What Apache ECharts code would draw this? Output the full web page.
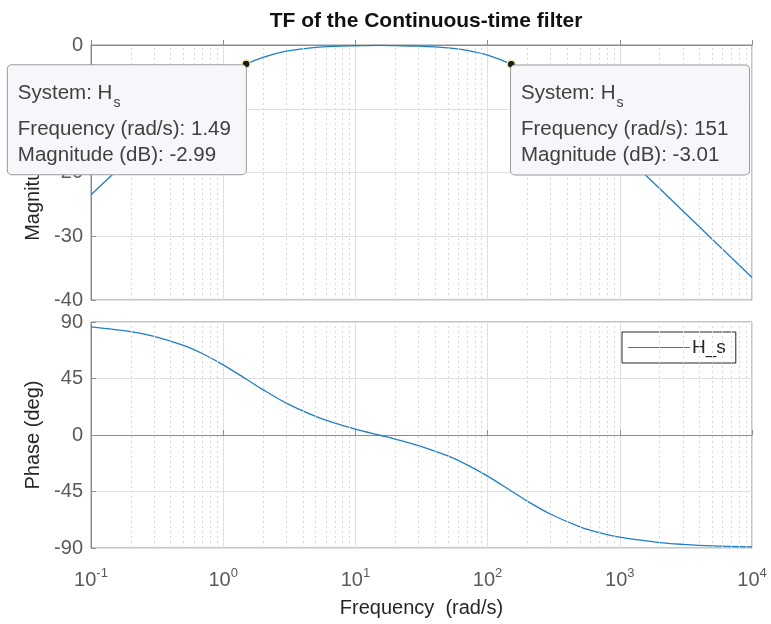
<!DOCTYPE html>
<html>
<head>
<meta charset="utf-8">
<script src="https://cdn.jsdelivr.net/npm/echarts@6/dist/echarts.min.js"></script>
<style>html,body{margin:0;padding:0;background:#fff}#c{width:771px;height:624px}</style>
</head>
<body>
<div id="c"></div>
<script>
// Frequency points (rad/s)
var freq = [0.1, 0.2, 0.3, 0.5, 0.7, 1, 1.5, 2, 3, 5, 7, 10, 15, 20, 30, 50, 70, 100, 150, 200, 300, 500, 700, 1000, 2000, 3000, 5000, 10000];
// Magnitude (dB)
var magnitude = [-23.5, -17.6, -14.15, -10.0, -7.48, -5.12, -3.01, -1.94, -0.97, -0.37, -0.2, -0.12, -0.05, -0.1, -0.18, -0.46, -0.86, -1.6, -3.01, -4.44, -6.99, -10.83, -13.58, -16.57, -22.52, -26.03, -30.46, -36.48];
// Phase (deg)
var phase = [86.15, 82.3, 78.6, 71.4, 64.7, 55.9, 44.4, 36.1, 25.4, 14.8, 9.4, 4.7, 0.0, -3.3, -8.45, -16.7, -23.8, -32.8, -44.4, -52.7, -63.1, -73.1, -77.8, -81.4, -85.7, -87.1, -88.3, -89.1];
// Data tips
var tipFreq = [1.49, 151];
var tipMag = [-2.99, -3.01];
// Minor grid positions
var minorTicks = [0.2,0.3,0.4,0.5,0.6,0.7,0.8,0.9, 2,3,4,5,6,7,8,9, 20,30,40,50,60,70,80,90, 200,300,400,500,600,700,800,900, 2000,3000,4000,5000,6000,7000,8000,9000];
var magTicks = [-40, 0, 10];
var phaseTicks = [-90, 90, 45];

var FONT = "'Liberation Sans', Arial, Helvetica, sans-serif";
var LINE = '#1f7fc4';
var BOXW = 238;
var minorML = {
  silent: true, symbol: ['none', 'none'],
  label: {show: false},
  lineStyle: {type: [2, 3], color: '#d8d8d8', width: 1},
  emphasis: {disabled: true},
  data: minorTicks.map(function (v) { return {xAxis: v}; })
};

function tipLabel(i, left) {
  return {
    show: true,
    position: left ? [4.5 - BOXW, 6] : [4.5, 6],
    align: 'left',
    verticalAlign: 'top',
    width: BOXW - 22,
    formatter: '{h|System: H}{s|s}\n{a|Frequency (rad/s): ' + tipFreq[i] + '}\n{a|Magnitude (dB): ' + tipMag[i] + '}',
    backgroundColor: '#f7f7fb',
    borderColor: '#9a9a9a',
    borderWidth: 1,
    borderRadius: 4,
    padding: [11, 12, 6, 10],
    color: '#404040',
    fontFamily: FONT,
    rich: {
      h: {fontSize: 20.5, lineHeight: 40, color: '#404040', fontFamily: FONT, padding: [0, 0, 6, 0]},
      a: {fontSize: 20.5, lineHeight: 26, color: '#404040', fontFamily: FONT},
      s: {fontSize: 14, lineHeight: 40, color: '#404040', fontFamily: FONT, padding: [14, 0, 0, 1]}
    }
  };
}

var xLabelFmt = function (v) {
  var e = Math.round(Math.log10(v));
  return '{b|10}{p|' + e + '}';
};

var option = {
  animation: false,
  backgroundColor: '#ffffff',
  title: {
    text: 'TF of the Continuous-time filter',
    left: 421, top: 6, textAlign: 'center',
    textStyle: {fontFamily: FONT, fontSize: 21, fontWeight: 'bold', color: '#111111'}
  },
  legend: {
    data: ['H_s'],
    left: 622, top: 332,
    orient: 'vertical',
    backgroundColor: '#ffffff',
    borderColor: '#262626', borderWidth: 1, borderRadius: 0,
    padding: [6, 10, 6, 6],
    itemWidth: 62, itemHeight: 16,
    icon: 'path://M0,8L62,8L62,9L0,9Z',
    textStyle: {fontFamily: FONT, fontSize: 19, color: '#262626', padding: [0, 0, 0, -3]}
  },
  grid: [
    {left: 91, right: 19, top: 45, height: 255, show: true, borderColor: '#8c8c8c', borderWidth: 1, backgroundColor: '#fff', containLabel: false},
    {left: 91, right: 19, top: 322, height: 226, show: true, borderColor: '#8c8c8c', borderWidth: 1, backgroundColor: '#fff', containLabel: false}
  ],
  xAxis: [
    {type: 'log', logBase: 10, min: 0.1, max: 10000, gridIndex: 0,
     axisLine: {show: true, lineStyle: {color: '#8c8c8c'}},
     axisTick: {show: true, inside: true, length: 5, lineStyle: {color: '#8c8c8c'}},
     axisLabel: {show: false},
     splitLine: {show: true, lineStyle: {color: '#e0e0e0', width: 1}}},
    {type: 'log', logBase: 10, min: 0.1, max: 10000, gridIndex: 1,
     name: 'Frequency  (rad/s)', nameLocation: 'middle', nameGap: 50,
     nameTextStyle: {fontFamily: FONT, fontSize: 20, color: '#262626'},
     axisLine: {show: true, lineStyle: {color: '#8c8c8c'}},
     axisTick: {show: true, inside: true, length: 5, lineStyle: {color: '#8c8c8c'}},
     axisLabel: {show: true, margin: 19, formatter: xLabelFmt,
       rich: {
         b: {fontFamily: FONT, fontSize: 20, color: '#5a5a5a', lineHeight: 26},
         p: {fontFamily: FONT, fontSize: 13, color: '#5a5a5a', verticalAlign: 'top', lineHeight: 14, padding: [0, 0, 15, 0]}
       }},
     splitLine: {show: true, lineStyle: {color: '#e0e0e0', width: 1}}}
  ],
  yAxis: [
    {type: 'value', gridIndex: 0, min: magTicks[0], max: magTicks[1], interval: magTicks[2],
     name: 'Magnitude (dB)', nameLocation: 'middle', nameGap: 48, nameRotate: 90,
     nameTextStyle: {fontFamily: FONT, fontSize: 20, color: '#262626'},
     axisLine: {show: true, lineStyle: {color: '#8c8c8c'}},
     axisTick: {show: true, inside: true, length: 5, lineStyle: {color: '#8c8c8c'}},
     axisLabel: {fontFamily: FONT, fontSize: 20, color: '#5a5a5a', margin: 8},
     splitLine: {show: true, lineStyle: {color: '#e0e0e0', width: 1}}},
    {type: 'value', gridIndex: 1, min: phaseTicks[0], max: phaseTicks[1], interval: phaseTicks[2],
     name: 'Phase (deg)', nameLocation: 'middle', nameGap: 48, nameRotate: 90,
     nameTextStyle: {fontFamily: FONT, fontSize: 20, color: '#262626'},
     axisLine: {show: true, lineStyle: {color: '#8c8c8c'}},
     axisTick: {show: true, inside: true, length: 5, lineStyle: {color: '#8c8c8c'}},
     axisLabel: {fontFamily: FONT, fontSize: 20, color: '#5a5a5a', margin: 8},
     splitLine: {show: true, lineStyle: {color: '#e0e0e0', width: 1}}}
  ],
  series: [
    {name: 'H_s', type: 'line', xAxisIndex: 0, yAxisIndex: 0, smooth: 0.3, showSymbol: false,
     lineStyle: {color: LINE, width: 1.3}, itemStyle: {color: LINE},
     data: freq.map(function (f, i) { return [f, magnitude[i]]; }),
     markLine: minorML,
     markPoint: {
       symbol: 'circle', symbolSize: 8, silent: true,
       itemStyle: {color: '#1a1a1a', borderColor: '#f0e8a0', borderWidth: 1.5},
       data: [
         {coord: [tipFreq[0], tipMag[0]], label: tipLabel(0, true)},
         {coord: [tipFreq[1], tipMag[1]], label: tipLabel(1, false)}
       ]
     }},
    {name: 'H_s', type: 'line', xAxisIndex: 1, yAxisIndex: 1, smooth: 0.3, showSymbol: false,
     lineStyle: {color: LINE, width: 1.3}, itemStyle: {color: LINE},
     data: freq.map(function (f, i) { return [f, phase[i]]; }),
     markLine: minorML}
  ]
};
var chart = echarts.init(document.getElementById('c'), null, {renderer: 'canvas'});
chart.setOption(option);
</script>
</body>
</html>
